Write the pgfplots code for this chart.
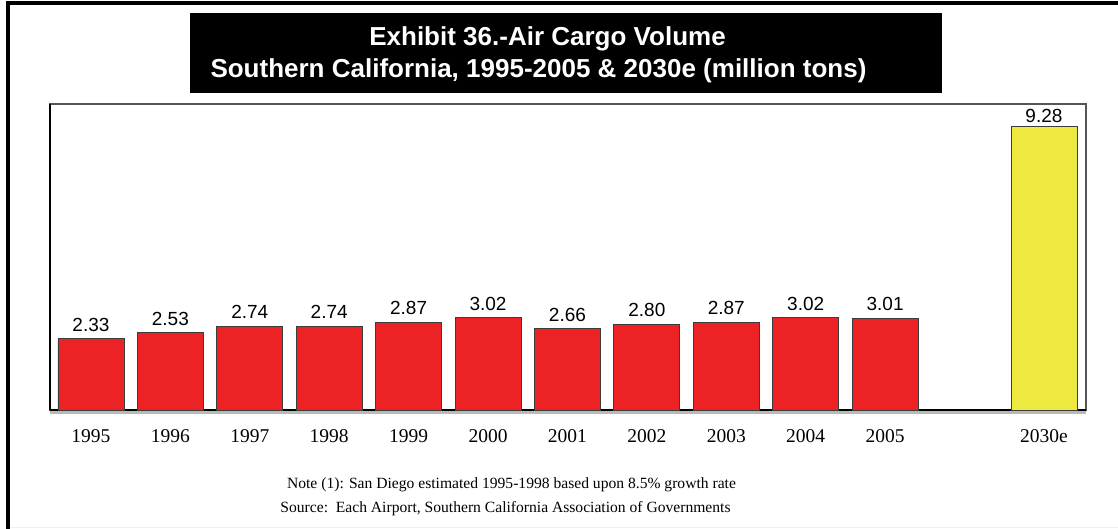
\documentclass[border=0pt]{standalone}
\usepackage{pgfplots}
\pgfplotsset{compat=1.18}
\usepackage{fontspec}
\setmainfont{Liberation Serif}
\newfontfamily\arial{Liberation Sans}
\definecolor{barred}{RGB}{237,34,37}
\definecolor{baryel}{RGB}{237,233,62}
\definecolor{barline}{RGB}{60,60,60}
\definecolor{boxgray}{RGB}{85,85,85}
\begin{document}
\begin{tikzpicture}[x=1pt,y=1pt]
\useasboundingbox (0,0) rectangle (1118,-529);
% outer frame
\fill[black] (6,-1) rectangle (1118,-5);
\fill[black] (6,-1) rectangle (10,-529);
\draw[gray!12, line width=1pt] (10,-527.5) -- (1118,-527.5);
% title box
\fill[black] (190,-13) rectangle (942,-93);
\node[anchor=base, text=white, font=\arial\bfseries\fontsize{26}{30}\selectfont, inner sep=0pt] at (547.5,-46) {Exhibit 36.-Air Cargo Volume};
\node[anchor=base, text=white, font=\arial\bfseries\fontsize{26}{30}\selectfont, inner sep=0pt] at (538.5,-78) {Southern California, 1995-2005 \& 2030e (million tons)};
% notes
\node[anchor=base, font=\fontsize{15.6}{18}\selectfont, inner sep=0pt] at (511.5,-488) {Note (1): San Diego estimated 1995-1998 based upon 8.5\% growth rate};
\node[anchor=base, font=\fontsize{15.6}{18}\selectfont, inner sep=0pt] at (505.5,-512) {Source:\ \ Each Airport, Southern California Association of Governments};
\begin{axis}[
  at={(50pt,-410pt)}, anchor=south west,
  scale only axis, width=1036pt, height=306pt,
  xmin=-0.516, xmax=12.53, ymin=0, ymax=10.02,
  ybar, bar width=66pt,
  axis line style={draw=none},
  major tick length=0pt,
  ytick=\empty,
  xtick={0,1,2,3,4,5,6,7,8,9,10,12},
  xticklabels={1995,1996,1997,1998,1999,2000,2001,2002,2003,2004,2005,2030e},
  xticklabel style={font=\fontsize{19.5}{22}\selectfont, anchor=center, yshift=-26.5pt, inner sep=0pt},
  point meta=explicit symbolic,
  every node near coord/.append style={font=\arial\fontsize{19}{22}\selectfont, anchor=south, inner sep=0pt, text=black},
  clip=false,
]
\draw[boxgray, line width=1.5pt] (rel axis cs:0,0) rectangle (rel axis cs:1,1);
\draw[black, line width=2pt] (rel axis cs:0,0) -- (rel axis cs:0,1);
\draw[gray!55, line width=2.5pt] (axis cs:-0.516,-0.075) -- (axis cs:12.53,-0.075);
\draw[black, line width=2pt] (axis cs:-0.516,0) -- (axis cs:12.53,0);
\addplot[bar shift=0pt, fill=barred, draw=barline, line width=0.8pt,
  nodes near coords, nodes near coords style={yshift=7pt}]
  coordinates {
  (0,2.33) [2.33]
  (1,2.53) [2.53]
  (2,2.74) [2.74]
  (3,2.74) [2.74]
  (4,2.87) [2.87]
  (5,3.02) [3.02]
  (6,2.66) [2.66]
  (7,2.80) [2.80]
  (8,2.87) [2.87]
  (9,3.02) [3.02]
  (10,3.01) [3.01]
  };
\addplot[bar shift=0pt, fill=baryel, draw=barline, line width=0.8pt,
  nodes near coords, nodes near coords style={yshift=4pt}]
  coordinates {
  (12,9.28) [9.28]
  };
\end{axis}
\end{tikzpicture}
\end{document}
